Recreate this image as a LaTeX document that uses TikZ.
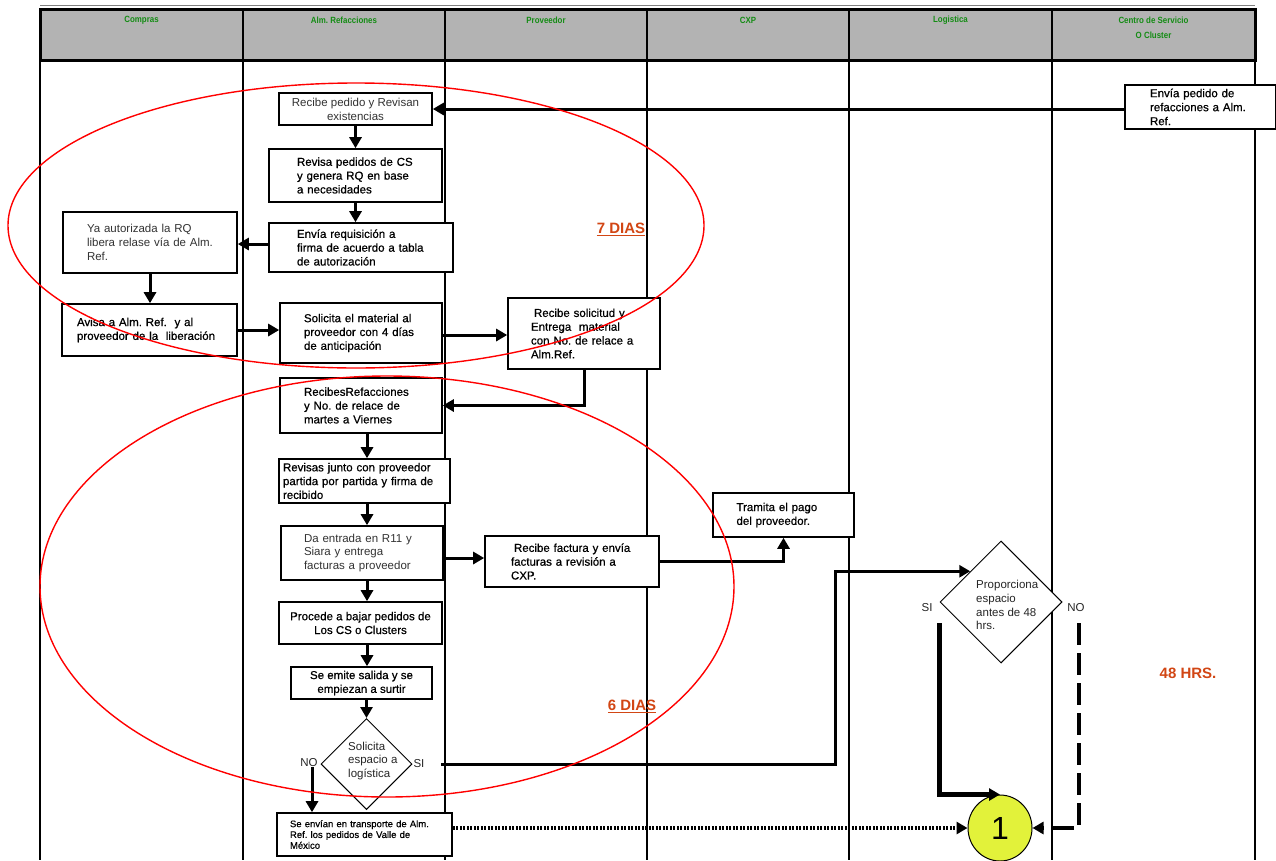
\documentclass[tikz,border=0pt]{standalone}
\usepackage{fontspec}
\setmainfont{Liberation Sans}
\newfontfamily\hv[FakeBold=0.6]{Liberation Sans}
\newfontfamily\hdrfont[FakeStretch=0.88]{Liberation Sans}
\usetikzlibrary{arrows.meta,shapes.geometric}
\definecolor{hdrgray}{RGB}{179,179,179}
\definecolor{hdrgreen}{RGB}{20,140,20}
\definecolor{diascol}{RGB}{210,70,20}
\definecolor{circy}{RGB}{226,242,58}
\frenchspacing
\begin{document}
\begin{tikzpicture}[x=1pt,y=-1pt,
  box/.style={draw, line width=1.6pt, fill=white, inner sep=0pt, align=left, font=\hv\fontsize{11.5}{13.8}\selectfont},
  lbox/.style={box, font=\normalfont\fontsize{11.5}{13.8}\selectfont, text=black!80},
  cbox/.style={box, align=center},
  lane/.style={line width=1.2pt},
  conn/.style={line width=3pt, -{Triangle[length=11pt,width=12pt]}},
  dia/.style={draw, diamond, line width=1pt, fill=white, inner sep=0pt},
  lbl/.style={font=\fontsize{11.5}{13.8}\selectfont, inner sep=0pt, text=black!85},
  hdr/.style={font=\hdrfont\bfseries\fontsize{9}{15}\selectfont, text=hdrgreen, inner sep=0pt, align=center},
  diastxt/.style={font=\bfseries\fontsize{15}{17}\selectfont, text=diascol, inner sep=0pt},
  redring/.style={draw=red, line width=1.4pt}
]
\useasboundingbox (0,0) rectangle (1276,860);
\fill[white] (0,0) rectangle (1276,860);

% lanes
\foreach \x in {40,243,445,647,849,1052,1255} \draw[lane] (\x,60) -- (\x,860);

% header
\draw[gray, line width=0.8pt] (40,5.5) -- (1255,5.5);
\fill[hdrgray] (40,9) rectangle (1255,60);
\foreach \x in {243,445,647,849,1052} \draw[line width=1.2pt] (\x,9) -- (\x,60);
\draw[line width=3pt] (40,9) rectangle (1255,60);
\node[hdr] (h1) at (141.5,20.5) {Compras};
\node[hdr] (h2) at (344,20.5) {Alm. Refacciones};
\node[hdr] (h3) at (546,20.5) {Proveedor};
\node[hdr] (h4) at (748,20.5) {CXP};
\node[hdr] (h5) at (950.5,20.5) {Logistica};
\node[hdr] (h6) at (1153.5,28) {Centro de Servicio\\O Cluster};

% boxes
\node[cbox, font=\normalfont\fontsize{11.5}{13.8}\selectfont, text=black!80, minimum width=153pt, minimum height=32pt] (n1) at (355.5,109) {Recibe pedido y Revisan\\existencias};
\node[box, minimum width=173pt, minimum height=53pt, text width=117pt] (n2) at (355.5,175.5) {Revisa pedidos de CS\\y genera RQ en base\\a necesidades};
\node[box, minimum width=184pt, minimum height=49pt, text width=128pt] (n3) at (361,247.5) {Envía requisición a\\firma de acuerdo a tabla\\de autorización};
\node[lbox, minimum width=174pt, minimum height=61pt, text width=126pt] (n4) at (150,242.5) {Ya autorizada la RQ\\libera relase vía de Alm.\\Ref.};
\node[box, minimum width=175pt, minimum height=52pt, text width=145pt] (n5) at (149.5,330) {Avisa a Alm. Ref.~ y al\\proveedor de la~ liberación};
\node[box, minimum width=162pt, minimum height=60pt, text width=114pt] (n6) at (361,333) {Solicita el material al\\proveedor con 4 días\\de anticipación};
\node[box, minimum width=152pt, minimum height=71pt, text width=106pt] (n7) at (584,333.5) {\hspace{3pt}Recibe solicitud y\\Entrega~ material\\con No. de relace a\\Alm.Ref.};
\node[box, minimum width=162pt, minimum height=55pt, text width=114pt] (n8) at (361,405.5) {RecibesRefacciones\\y No. de relace de\\martes a Viernes};
\node[box, minimum width=171pt, minimum height=44pt, text width=163pt] (n9) at (364.5,481) {Revisas junto con proveedor\\partida por partida y firma de\\recibido};
\node[lbox, minimum width=162pt, minimum height=54pt, text width=116pt] (n10) at (362,553) {Da entrada en R11 y\\Siara y entrega\\facturas a proveedor};
\node[box, minimum width=174pt, minimum height=51pt, text width=122pt] (n11) at (572,561.5) {\hspace{3pt}Recibe factura y envía\\facturas a revisión a\\CXP.};
\node[box, minimum width=141pt, minimum height=44pt, text width=94pt] (n12) at (783.5,515) {Tramita el pago\\del proveedor.};
\node[cbox, minimum width=163pt, minimum height=42pt] (n13) at (360.5,623) {Procede a bajar pedidos de\\Los CS o Clusters};
\node[cbox, minimum width=141pt, minimum height=32pt] (n14) at (361.5,683) {Se emite salida y se\\empiezan a surtir};
\node[box, font=\hv\fontsize{9.5}{10.8}\selectfont, minimum width=175pt, minimum height=43pt, text width=149pt] (n16) at (364.5,834.5) {Se envían en transporte de Alm.\\Ref. los pedidos de Valle de\\México};
\node[box, font=\hv\fontsize{11.5}{14}\selectfont, minimum width=151pt, minimum height=44pt, text width=101pt] (n17) at (1200.5,107) {Envía pedido de\\refacciones a Alm.\\Ref.};

% diamonds
\node[dia, minimum width=91pt, minimum height=91pt] (d1) at (366.5,764) {};
\node[lbl, align=left, anchor=west] (d1t) at (348,761) {Solicita\\espacio a\\logística};
\node[dia, minimum width=122pt, minimum height=122pt] (d2) at (1001,602) {};
\node[lbl, align=left, anchor=west] (d2t) at (976,605) {Proporciona\\espacio\\antes de 48\\hrs.};

% connector circle
\node[draw, ellipse, fill=circy, line width=1pt, minimum width=64pt, minimum height=66pt, inner sep=0pt, font=\fontsize{32}{32}\selectfont] (c1) at (1000,828) {1};

% labels
\node[lbl] (noL1) at (309,763) {NO};
\node[lbl] (siL1) at (419,764) {SI};
\node[lbl] (siL2) at (927,608) {SI};
\node[lbl] (noL2) at (1076,608) {NO};

% free-end coordinates
\coordinate (ax) at (367,0);
\coordinate (noA) at (312,767);
\coordinate (siA) at (441,764);
\coordinate (siV) at (835,764);
\coordinate (si2) at (939,623);
\coordinate (no2) at (1079,623);

% connectors
\draw[conn] (n1.east -| n17.west) -- (n1.east);
\draw[conn] (n1.south) -- (n1.south |- n2.north);
\draw[conn] (n2.south) -- (n2.south |- n3.north);
\draw[conn] ([yshift=3.5pt]n3.west) -- ([yshift=3.5pt]n3.west -| n4.east);
\draw[conn] (n4.south) -- (n4.south |- n5.north);
\draw[conn] (n5.east) -- (n5.east -| n6.west);
\draw[conn] ([yshift=-2pt]n6.east) -- ([yshift=-2pt]n6.east -| n7.west);
\draw[conn] (n7.south) |- (n8.east);
\draw[conn] (n8.south -| ax) -- (n9.north -| ax);
\draw[conn] (n9.south -| ax) -- (n10.north -| ax);
\draw[conn] ([yshift=-5pt]n10.east) -- ([yshift=-5pt]n10.east -| n11.west);
\draw[conn] (n11.east) -| (n12.south);
\draw[conn] (n10.south -| ax) -- (n13.north -| ax);
\draw[conn] (n13.south -| ax) -- (n14.north -| ax);
\draw[conn] (n14.south -| d1.north) -- (d1.north);
\draw[conn] (noA) -- (noA |- n16.north);
\draw[conn] (siA) -- (siV) |- (d2.north west);
\draw[conn, line width=5pt] (si2) |- (c1.north);
\draw[conn, line width=4pt, dash pattern=on 22pt off 8pt] (no2) |- (c1.east);
\draw[conn, line width=3.5pt, dash pattern=on 2pt off 1.5pt] (n16.east |- c1.west) -- (c1.west);

% time labels
\node[diastxt] (t7) at (621,229) {\underline{7 DIAS}};
\node[diastxt] (t6) at (632,706) {\underline{6 DIAS}};
\node[diastxt] (t48) at (1188,673) {48 HRS.};

% red ellipses
\draw[redring] (356,225.5) ellipse [x radius=348, y radius=142.5];
\draw[redring] (387,586.5) ellipse [x radius=347, y radius=210.5];
\end{tikzpicture}
\end{document}
